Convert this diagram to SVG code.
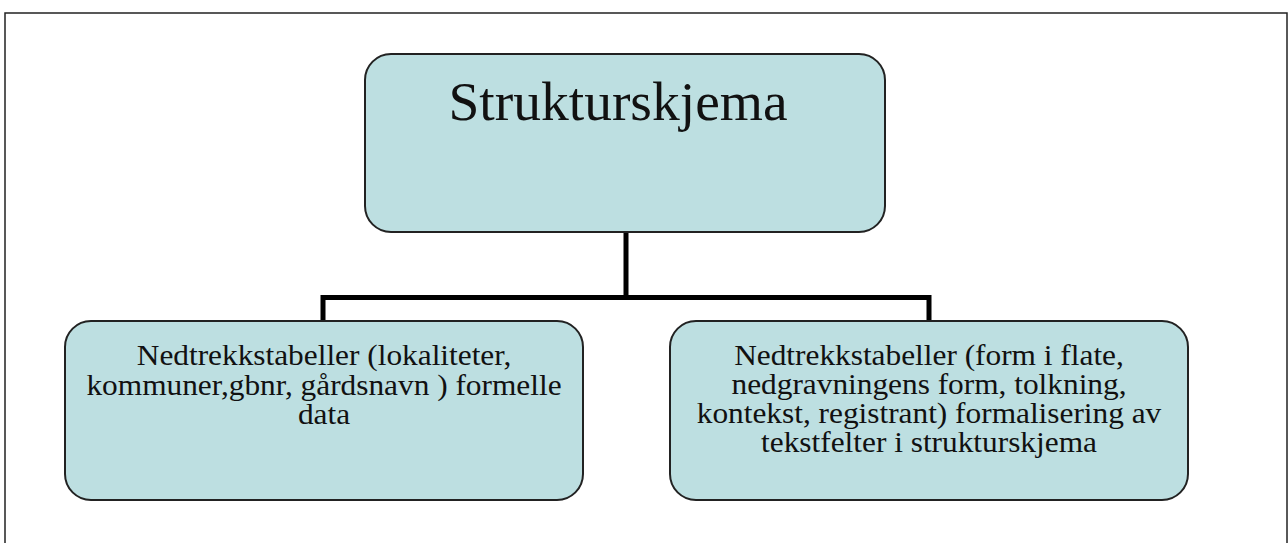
<svg xmlns="http://www.w3.org/2000/svg" width="1288" height="543" viewBox="0 0 1288 543">
<style>
.box{fill:#bddfe1;stroke:#222;stroke-width:2}
.t{font-family:"Liberation Serif","Times New Roman",serif;fill:#111;text-anchor:middle}
.b{font-size:28.5px}
.conn{fill:none;stroke:#000;stroke-width:5}
</style>
<rect x="0" y="0" width="1288" height="543" fill="#fff"/>
<rect x="5" y="13" width="1282" height="540" fill="none" stroke="#222" stroke-width="1.5"/>
<g id="connectors">
<path class="conn" d="M626 232 V297.5 M323 321 V297.5 H929 V321"/>
</g>
<g id="node-root">
<rect class="box" x="365" y="54" width="520" height="178" rx="26"/>
<text class="t" x="618" y="120" font-size="55.5">Strukturskjema</text>
</g>
<g id="node-left">
<rect class="box" x="65" y="321" width="518" height="179" rx="26"/>
<text class="t b" transform="translate(324 0) scale(1.1 1)"><tspan x="0" y="365">Nedtrekkstabeller (lokaliteter,</tspan><tspan x="0" y="395">kommuner,gbnr, gårdsnavn ) formelle</tspan><tspan x="0" y="424">data</tspan></text>
</g>
<g id="node-right">
<rect class="box" x="670" y="321" width="518" height="179" rx="26"/>
<text class="t b" transform="translate(929 0) scale(1.1 1)"><tspan x="0" y="365">Nedtrekkstabeller (form i flate,</tspan><tspan x="0" y="394">nedgravningens form, tolkning,</tspan><tspan x="0" y="423">kontekst, registrant) formalisering av</tspan><tspan x="0" y="452">tekstfelter i strukturskjema</tspan></text>
</g>
</svg>
